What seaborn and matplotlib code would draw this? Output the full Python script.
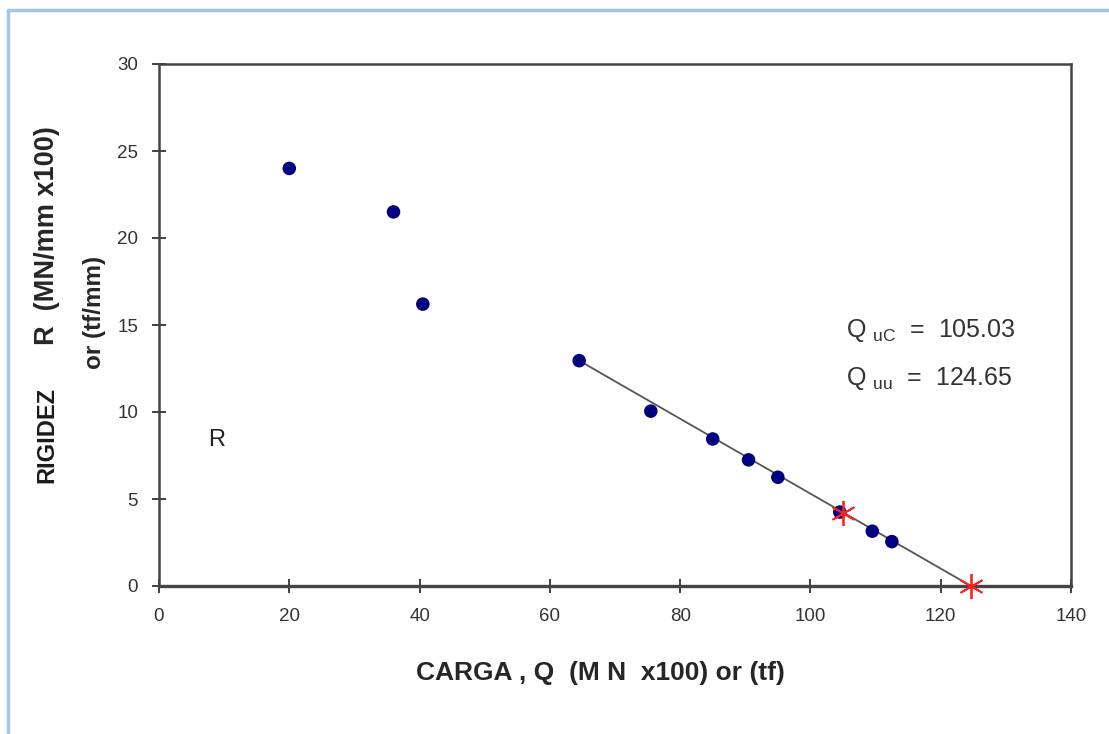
import matplotlib
matplotlib.use("Agg")
import matplotlib.pyplot as plt
from matplotlib import font_manager
from matplotlib.lines import Line2D
import seaborn as sns

# measured points
carga = [20, 36, 40.5, 64.5, 75.5, 85, 90.5, 95, 104.5, 109.5, 112.5]
rigidez = [24, 21.5, 16.2, 12.95, 10.05, 8.45, 7.25, 6.25, 4.25, 3.15, 2.55]

# fitted line and ultimate loads
line_x = [64.5, 124.65]
line_y = [12.95, 0.0]
ult_x = [105.03, 124.65]
ult_y = [4.2, 0.0]

x_ticks = [0, 20, 40, 60, 80, 100, 120, 140]
y_ticks = [0, 5, 10, 15, 20, 25, 30]

sns.set_style("white")

names = {f.name for f in font_manager.fontManager.ttflist}
narrow = "Liberation Sans Narrow" if "Liberation Sans Narrow" in names else "Liberation Sans"
plt.rcParams["font.family"] = ["Liberation Sans", "DejaVu Sans"]

fig = plt.figure(figsize=(11.09, 7.34), dpi=100)
ax = fig.add_axes([159 / 1109, 1 - 586 / 734, (1071 - 159) / 1109, (586 - 64) / 734])

sns.lineplot(x=line_x, y=line_y, color="#555555", linewidth=1.3, ax=ax)
sns.scatterplot(x=carga, y=rigidez, color="#000080", s=95, edgecolor="none", ax=ax, zorder=3)
ax.plot(ult_x, ult_y, linestyle="none", marker=(6, 2, 0), markersize=18,
        markeredgecolor="#ff2020", markeredgewidth=1.3, zorder=4, clip_on=False)

ax.set_xlim(0, 140)
ax.set_ylim(0, 30)
ax.set_xticks(x_ticks)
ax.set_yticks(y_ticks)
ax.tick_params(bottom=True, left=True, direction="inout", length=10, width=1.3,
               color="#333333", labelsize=13.5, labelcolor="#333333", pad=11)
ax.tick_params(axis="y", pad=10)
for lab in ax.get_xticklabels() + ax.get_yticklabels():
    lab.set_family(narrow)
for s in ax.spines.values():
    s.set_color("#444444")
    s.set_linewidth(1.8)
ax.spines["bottom"].set_linewidth(2.4)

ax.text(105.5, 14.7, r"Q $_{\mathregular{uC}}$  =  105.03", fontsize=18, color="#333333", va="center")
ax.text(105.5, 11.95, r"Q $_{\mathregular{uu}}$  =  124.65", fontsize=18, color="#333333", va="center")
ax.text(7.5, 8.4, "R", fontsize=17, color="#222222", va="center")

# axis titles
fig.text(600 / 1109, 1 - 673 / 734, "CARGA , Q  (M N  x100) or (tf)", family=narrow,
         fontweight="bold", fontsize=19, ha="center", va="center")
fig.text(47 / 1109, 1 - 483 / 734, "RIGIDEZ", family=narrow, fontweight="bold",
         fontsize=17, rotation=90, ha="center", va="bottom", color="#1a1a1a")
fig.text(47 / 1109, 1 - 345 / 734, "R  (MN/mm x100)", fontweight="bold",
         fontsize=19.5, rotation=90, ha="center", va="bottom")
fig.text(95 / 1109, 1 - 312 / 734, "or (tf/mm)", fontweight="bold",
         fontsize=17.5, rotation=90, ha="center", va="center")

# light blue frame around the chart
fig.add_artist(Line2D([8 / 1109, 8 / 1109], [0, 1 - 10 / 734], color="#a4c4ea", linewidth=2.5))
fig.add_artist(Line2D([8 / 1109, 1], [1 - 10 / 734, 1 - 10 / 734], color="#a4c4ea", linewidth=2.5))

fig.savefig("out.png", dpi=100)
